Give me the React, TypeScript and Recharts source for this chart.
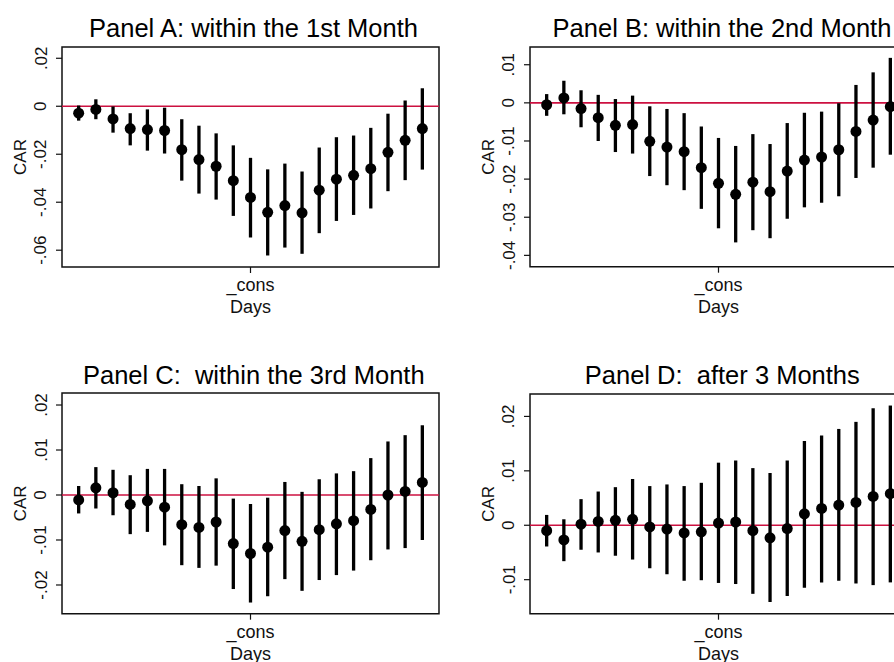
import React from 'react';
import {
  ComposedChart,
  Scatter,
  XAxis,
  YAxis,
  ErrorBar,
  ReferenceLine,
  ReferenceArea,
} from 'recharts';

// Event days (coefficient positions) and the single labelled tick
const dayIndex = [0, 1, 2, 3, 4, 5, 6, 7, 8, 9, 10, 11, 12, 13, 14, 15, 16, 17, 18, 19, 20];
const xTickValues = [10];
const xTickLabel = '_cons';

// Panel A: within the 1st month
const carA = [-0.0029, -0.0013, -0.0053, -0.0093, -0.0097, -0.0101, -0.0181, -0.0222, -0.025, -0.031, -0.038, -0.0442, -0.0414, -0.0444, -0.035, -0.0304, -0.0288, -0.026, -0.0192, -0.0142, -0.0093];
const loA = [-0.006, -0.0054, -0.011, -0.0163, -0.0185, -0.0197, -0.031, -0.0364, -0.0389, -0.0457, -0.0547, -0.0622, -0.0589, -0.0615, -0.0529, -0.0478, -0.0453, -0.0426, -0.0354, -0.0308, -0.0264];
const hiA = [0.0003, 0.0029, -0.0001, -0.0029, -0.0013, -0.0006, -0.0054, -0.0081, -0.0113, -0.0163, -0.0215, -0.0263, -0.0239, -0.0272, -0.0172, -0.0129, -0.0122, -0.009, -0.0031, 0.0024, 0.0075];
const ticksA = [-0.06, -0.04, -0.02, 0, 0.02];

// Panel B: within the 2nd month
const carB = [-0.0005, 0.0013, -0.0015, -0.0039, -0.0059, -0.0057, -0.0101, -0.0116, -0.0128, -0.017, -0.0211, -0.024, -0.0208, -0.0233, -0.0179, -0.015, -0.0142, -0.0123, -0.0075, -0.0045, -0.001];
const loB = [-0.0034, -0.003, -0.0064, -0.01, -0.0129, -0.0133, -0.0192, -0.0216, -0.0229, -0.0278, -0.0329, -0.0366, -0.0334, -0.0355, -0.0304, -0.0274, -0.0262, -0.0245, -0.0197, -0.017, -0.0136];
const hiB = [0.0023, 0.0058, 0.0033, 0.0021, 0.001, 0.0019, -0.0009, -0.0016, -0.0027, -0.0062, -0.0092, -0.0113, -0.0082, -0.0108, -0.0053, -0.0026, -0.0023, -0.0001, 0.0047, 0.008, 0.0118];
const ticksB = [-0.04, -0.03, -0.02, -0.01, 0, 0.01];

// Panel C: within the 3rd month
const carC = [-0.0011, 0.0016, 0.0005, -0.0021, -0.0013, -0.0027, -0.0066, -0.0072, -0.006, -0.0108, -0.013, -0.0116, -0.0079, -0.0103, -0.0077, -0.0064, -0.0057, -0.0032, 0, 0.0008, 0.0028];
const loC = [-0.0041, -0.003, -0.0045, -0.0087, -0.0082, -0.0112, -0.0156, -0.0162, -0.0157, -0.0209, -0.0239, -0.0225, -0.0187, -0.0213, -0.0189, -0.0178, -0.0168, -0.0145, -0.0121, -0.0118, -0.01];
const hiC = [0.002, 0.0062, 0.0056, 0.0044, 0.0058, 0.0058, 0.0024, 0.002, 0.0037, -0.0008, -0.002, -0.0006, 0.0029, 0.0007, 0.0035, 0.0048, 0.0053, 0.0082, 0.0119, 0.0133, 0.0155];
const ticksC = [-0.02, -0.01, 0, 0.01, 0.02];

// Panel D: after 3 months
const carD = [-0.001, -0.0027, 0.0002, 0.0007, 0.0009, 0.0011, -0.0003, -0.0007, -0.0014, -0.0012, 0.0004, 0.0006, -0.001, -0.0023, -0.0006, 0.0021, 0.0031, 0.0037, 0.0042, 0.0053, 0.0058];
const loD = [-0.0039, -0.0066, -0.0045, -0.005, -0.0056, -0.0063, -0.0079, -0.009, -0.0102, -0.0101, -0.0106, -0.0108, -0.0126, -0.0141, -0.013, -0.0115, -0.0105, -0.0102, -0.0107, -0.011, -0.0105];
const hiD = [0.0019, 0.0011, 0.0048, 0.0062, 0.007, 0.0085, 0.0072, 0.0075, 0.0072, 0.0078, 0.0115, 0.0119, 0.0105, 0.0096, 0.0119, 0.0155, 0.0165, 0.0177, 0.019, 0.0215, 0.022];
const ticksD = [-0.01, 0, 0.01, 0.02];

const FONT = '"Liberation Sans", Arial, Helvetica, sans-serif';
const INK = '#111';
const ZERO_LINE = '#cc1040';
const X_DOMAIN: [number, number] = [-0.97, 20.97];
const Y_AXIS_W = 62;
const X_AXIS_H = 70;

type Row = { x: number; y: number; err: [number, number] };

function buildRows(est: number[], lo: number[], hi: number[]): Row[] {
  return dayIndex.map((d, i) => ({
    x: d,
    y: est[i],
    err: [est[i] - lo[i], hi[i] - est[i]],
  }));
}

// Stata-style number format: .02, 0, -.01
function fmtTick(v: number): string {
  if (Math.abs(v) < 1e-9) return '0';
  return v.toFixed(2).replace('0.', '.');
}

const YTick = (props: any) => {
  const { x, y, payload } = props;
  const bx = x - 9.5;
  return (
    <text
      x={bx}
      y={y}
      transform={`rotate(-90, ${bx}, ${y})`}
      textAnchor="middle"
      fontFamily={FONT}
      fontSize={17}
      fill={INK}
    >
      {fmtTick(payload.value)}
    </text>
  );
};

const XTick = (props: any) => {
  const { x, y } = props;
  return (
    <text x={x} y={y + 18} textAnchor="middle" fontFamily={FONT} fontSize={18} fill={INK}>
      {xTickLabel}
    </text>
  );
};

const Dot = (props: any) => <circle cx={props.cx} cy={props.cy} r={5.5} fill="#000" />;

type PanelProps = {
  title: string;
  rows: Row[];
  domain: [number, number];
  ticks: number[];
  left: number;
  top: number;
  plotW: number;
  plotH: number;
};

function Panel({ rows, domain, ticks, left, top, plotW, plotH }: PanelProps) {
  const margin = { top: 2, right: 4, bottom: 0, left: 0 };
  return (
    <div style={{ position: 'absolute', left: left - Y_AXIS_W, top: top - margin.top }}>
      <ComposedChart
        width={Y_AXIS_W + plotW + margin.right}
        height={margin.top + plotH + X_AXIS_H}
        margin={margin}
        data={rows}
      >
        <XAxis
          type="number"
          dataKey="x"
          domain={X_DOMAIN}
          allowDataOverflow
          ticks={xTickValues}
          height={X_AXIS_H}
          tickSize={6}
          tickMargin={0}
          axisLine={false}
          tickLine={{ stroke: INK, strokeWidth: 1.2 }}
          tick={<XTick />}
          label={{
            content: (p: any) => {
              const vb = p.viewBox || {};
              return (
                <text
                  x={vb.x + vb.width / 2}
                  y={vb.y + 46}
                  textAnchor="middle"
                  fontFamily={FONT}
                  fontSize={18}
                  fill={INK}
                >
                  Days
                </text>
              );
            },
          }}
        />
        <YAxis
          type="number"
          dataKey="y"
          domain={domain}
          allowDataOverflow
          ticks={ticks}
          width={Y_AXIS_W}
          tickSize={6}
          tickMargin={0}
          axisLine={false}
          tickLine={{ stroke: INK, strokeWidth: 1.2 }}
          tick={<YTick />}
          label={{
            content: (p: any) => {
              const vb = p.viewBox || {};
              const bx = vb.x + vb.width - 36;
              const cy = vb.y + vb.height / 2;
              return (
                <text
                  x={bx}
                  y={cy}
                  transform={`rotate(-90, ${bx}, ${cy})`}
                  textAnchor="middle"
                  fontFamily={FONT}
                  fontSize={17}
                  fill={INK}
                >
                  CAR
                </text>
              );
            },
          }}
        />
        <ReferenceLine y={0} stroke={ZERO_LINE} strokeWidth={1.6} ifOverflow="visible" />
        <Scatter dataKey="y" isAnimationActive={false} shape={<Dot />}>
          <ErrorBar dataKey="err" direction="y" width={0} strokeWidth={3.3} stroke="#000" isAnimationActive={false} />
        </Scatter>
        <ReferenceArea
          x1={X_DOMAIN[0]}
          x2={X_DOMAIN[1]}
          y1={domain[0]}
          y2={domain[1]}
          fill="none"
          stroke={INK}
          strokeWidth={1.5}
          ifOverflow="visible"
        />
      </ComposedChart>
    </div>
  );
}

const panels: (PanelProps & { titleX: number; titleY: number })[] = [
  {
    title: 'Panel A: within the 1st Month',
    rows: buildRows(carA, loA, hiA),
    domain: [-0.067, 0.0247],
    ticks: ticksA,
    left: 62,
    top: 47,
    plotW: 377,
    plotH: 220,
    titleX: 253.5,
    titleY: 37.4,
  },
  {
    title: 'Panel B: within the 2nd Month',
    rows: buildRows(carB, loB, hiB),
    domain: [-0.04297, 0.01465],
    ticks: ticksB,
    left: 529.7,
    top: 47.3,
    plotW: 377,
    plotH: 219.7,
    titleX: 722,
    titleY: 37.3,
  },
  {
    title: 'Panel C:  within the 3rd Month',
    rows: buildRows(carC, loC, hiC),
    domain: [-0.02638, 0.02267],
    ticks: ticksC,
    left: 62,
    top: 393.3,
    plotW: 377,
    plotH: 220.7,
    titleX: 253.8,
    titleY: 384.3,
  },
  {
    title: 'Panel D:  after 3 Months',
    rows: buildRows(carD, loD, hiD),
    domain: [-0.01625, 0.02412],
    ticks: ticksD,
    left: 529.7,
    top: 394.3,
    plotW: 377,
    plotH: 219.7,
    titleX: 722.3,
    titleY: 384.3,
  },
];

export default function App() {
  return (
    <div
      style={{
        position: 'fixed',
        left: 0,
        top: 0,
        width: 894,
        height: 662,
        overflow: 'hidden',
        background: '#fff',
      }}
    >
      {panels.map((p) => (
        <Panel key={p.title} {...p} />
      ))}
      <svg
        width={894}
        height={662}
        style={{ position: 'absolute', left: 0, top: 0, pointerEvents: 'none' }}
      >
        {panels.map((p) => (
          <text
            key={p.title}
            x={p.titleX}
            y={p.titleY}
            textAnchor="middle"
            fontFamily={FONT}
            fontSize={25.5}
            fill="#000"
            style={{ whiteSpace: 'pre' }}
          >
            {p.title}
          </text>
        ))}
      </svg>
    </div>
  );
}
